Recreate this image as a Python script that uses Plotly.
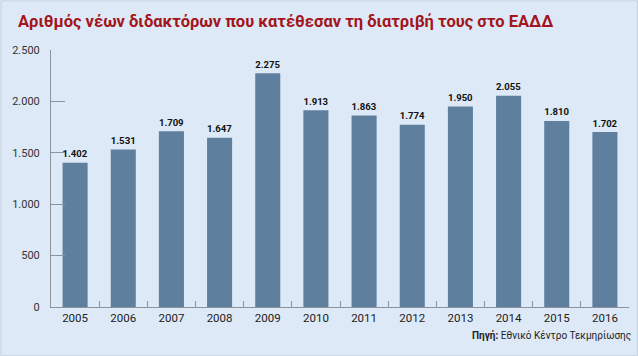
import plotly.graph_objects as go

years = ["2005", "2006", "2007", "2008", "2009", "2010", "2011", "2012", "2013", "2014", "2015", "2016"]
values = [1402, 1531, 1709, 1647, 2275, 1913, 1863, 1774, 1950, 2055, 1810, 1702]
ytick_vals = [0, 500, 1000, 1500, 2000, 2500]

title_text = "Αριθμός νέων διδακτόρων που κατέθεσαν τη διατριβή τους στο ΕΑΔΔ"
source_text = "<b>Πηγή:</b> Εθνικό Κέντρο Τεκμηρίωσης"

bg = "#dde9f6"
bar_color = "#5f7f9e"
axis_color = "#8a949f"
font_family = "Roboto, DejaVu Sans Condensed, sans-serif"

W, H = 638, 356
ml, mr, mt, mb = 50.5, 9, 49.6, 49.3
pw, ph = W - ml - mr, H - mt - mb

fig = go.Figure(go.Bar(
    x=years, y=values,
    marker=dict(color=bar_color, line=dict(width=0)),
    texttemplate="<b>%{y:,}</b>",
    textposition="outside",
    textfont=dict(family=font_family, size=11.5, color="#111111"),
    cliponaxis=False,
))

fig.update_layout(
    width=W, height=H,
    margin=dict(l=ml, r=mr, t=mt, b=mb, pad=0),
    paper_bgcolor=bg, plot_bgcolor=bg,
    separators=",.",
    bargap=0.48,
    showlegend=False,
    font=dict(family=font_family, color="#333333"),
)

fig.update_xaxes(
    type="category",
    showline=True, linecolor=axis_color, linewidth=1,
    ticks="inside", tickson="boundaries", ticklen=6, tickcolor=axis_color,
    tickfont=dict(size=11.5, color="#222222"),
    showgrid=False,
)
fig.update_yaxes(
    range=[0, 2500],
    tickvals=ytick_vals, tickformat=",d",
    showline=True, linecolor=axis_color, linewidth=1,
    ticks="inside", ticklen=14, tickcolor=axis_color,
    tickfont=dict(size=11, color="#333333"),
    ticklabelstandoff=8,
    showgrid=False, zeroline=False,
)

# title
fig.add_annotation(
    text="<b>" + title_text + "</b>",
    xref="paper", yref="paper",
    x=(15 - ml) / pw, y=(H - mb - 21.5) / ph,
    xanchor="left", yanchor="middle", showarrow=False,
    font=dict(family=font_family, size=16.5, color="#a3141b"),
)
# source
fig.add_annotation(
    text=source_text,
    xref="paper", yref="paper",
    x=(633 - ml) / pw, y=(H - mb - 336) / ph,
    xanchor="right", yanchor="middle", showarrow=False,
    font=dict(family=font_family, size=10, color="#222222"),
)
# border
fig.add_shape(
    type="rect", xref="paper", yref="paper",
    x0=(0.5 - ml) / pw, x1=(W - 0.5 - ml) / pw,
    y0=(H - mb - (H - 0.5)) / ph, y1=(H - mb - 0.5) / ph,
    line=dict(color="#c4d3e2", width=1), layer="below",
)

fig.write_html("out.html")
